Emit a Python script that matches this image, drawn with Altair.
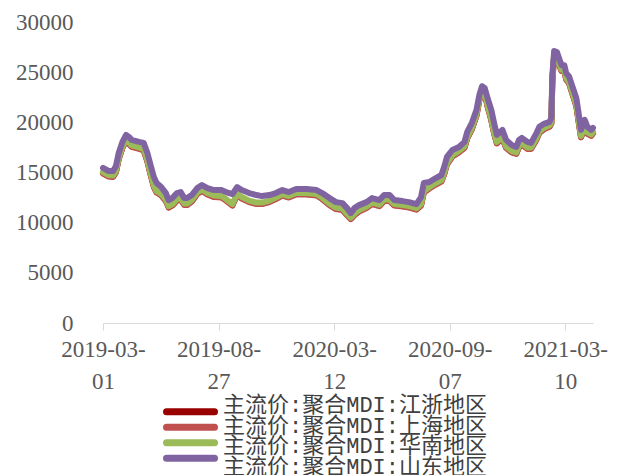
import altair as alt
import pandas as pd

# trading-day index of each sampled point (0 = 2019-03-01)
day_idx = [0, 6, 11, 14, 17, 21, 25, 28, 31, 39, 44, 48, 52, 55, 58, 63, 68, 71, 75, 80,
           84, 88, 91, 96, 102, 107, 113, 120, 128, 133, 140, 145, 150, 158, 166, 172, 180, 187, 194, 201,
           209, 220, 231, 237, 245, 252, 259, 264, 268, 272, 277, 285, 291, 299, 304, 310, 315, 324, 331, 339,
           344, 347, 353, 360, 366, 369, 372, 378, 385, 391, 394, 399, 404, 407, 410, 413, 416, 420, 423, 426,
           432, 436, 442, 447, 450, 453, 459, 463, 469, 472, 477, 483, 485, 486, 488, 491, 494, 496, 499, 501,
           504, 508, 512, 515, 517, 521, 524, 528, 530]

shandong = [15450, 15150, 15150, 15650, 16950, 18050, 18750, 18550, 18250, 18050, 17950, 16950, 15550, 14550, 13950, 13550, 12950, 12250, 12450, 12950,
            13050, 12450, 12450, 12750, 13450, 13750, 13450, 13250, 13250, 13050, 12850, 13550, 13250, 12950, 12750, 12650, 12750, 12950, 13250, 13050,
            13350, 13350, 13250, 12950, 12450, 12050, 11950, 11450, 10950, 11450, 11750, 12050, 12450, 12250, 12750, 12750, 12250, 12150, 12050, 11850,
            12550, 13950, 14050, 14450, 14750, 15550, 16550, 17250, 17550, 18050, 19050, 19950, 21250, 22700, 23600, 23400, 22400, 21250, 19950, 18750,
            19250, 18250, 17750, 17550, 18250, 18450, 18050, 17950, 18950, 19550, 19850, 20050, 20450, 24700, 27100, 27000, 26200, 25700, 25700, 24900,
            24600, 23500, 22400, 20550, 19250, 20250, 19550, 19250, 19450]

huanan = [15050, 14750, 14700, 15150, 16450, 17600, 18300, 18000, 17700, 17500, 17350, 16250, 14750, 13700, 13150, 12850, 12300, 11650, 11850, 12350,
          12450, 11900, 11900, 12250, 13000, 13300, 12950, 12700, 12650, 12350, 11850, 12900, 12550, 12200, 12000, 12000, 12200, 12500, 12850, 12650,
          12950, 12950, 12850, 12500, 11900, 11500, 11400, 10900, 10500, 10900, 11250, 11600, 12000, 11800, 12300, 12300, 11850, 11750, 11650, 11450,
          11850, 13150, 13550, 13950, 14250, 14950, 15950, 16750, 17150, 17600, 18550, 19450, 20800, 22300, 23300, 23000, 21700, 20350, 19050, 18050,
          18550, 17600, 17150, 17000, 17650, 17950, 17500, 17500, 18450, 19100, 19450, 19700, 20050, 24200, 26800, 26650, 25750, 25250, 25200, 24400,
          24050, 22900, 21750, 19850, 18650, 19550, 19000, 18800, 19050]

shanghai = [14900, 14600, 14550, 15000, 16300, 17450, 18150, 17850, 17550, 17350, 17200, 16100, 14600, 13550, 13000, 12700, 12150, 11500, 11700, 12200,
            12300, 11750, 11750, 12100, 12850, 13150, 12800, 12550, 12500, 12200, 11700, 12750, 12400, 12050, 11850, 11850, 12050, 12350, 12700, 12500,
            12800, 12800, 12700, 12350, 11750, 11350, 11250, 10750, 10350, 10750, 11100, 11450, 11850, 11650, 12150, 12150, 11700, 11600, 11500, 11300,
            11700, 13000, 13400, 13800, 14100, 14800, 15800, 16600, 17000, 17450, 18400, 19300, 20650, 22150, 23150, 22850, 21550, 20200, 18900, 17900,
            18400, 17450, 17000, 16850, 17500, 17800, 17350, 17350, 18300, 18950, 19300, 19550, 19900, 24050, 26650, 26500, 25600, 25100, 25050, 24250,
            23900, 22750, 21600, 19700, 18500, 19400, 18850, 18650, 18900]

jiangzhe = [14950, 14650, 14600, 15050, 16350, 17500, 18200, 17900, 17600, 17400, 17250, 16150, 14650, 13600, 13050, 12750, 12200, 11550, 11750, 12250,
            12350, 11800, 11800, 12150, 12900, 13200, 12850, 12600, 12550, 12250, 11750, 12800, 12450, 12100, 11900, 11900, 12100, 12400, 12750, 12550,
            12850, 12850, 12750, 12400, 11800, 11400, 11300, 10800, 10400, 10800, 11150, 11500, 11900, 11700, 12200, 12200, 11750, 11650, 11550, 11350,
            11750, 13050, 13450, 13850, 14150, 14850, 15850, 16650, 17050, 17500, 18450, 19350, 20700, 22200, 23200, 22900, 21600, 20250, 18950, 17950,
            18450, 17500, 17050, 16900, 17550, 17850, 17400, 17400, 18350, 19000, 19350, 19600, 19950, 24100, 26700, 26550, 25650, 25150, 25100, 24300,
            23950, 22800, 21650, 19750, 18550, 19450, 18900, 18700, 18950]

series_names = ["主流价:聚合MDI:江浙地区", "主流价:聚合MDI:上海地区",
                "主流价:聚合MDI:华南地区", "主流价:聚合MDI:山东地区"]
series_values = [jiangzhe, shanghai, huanan, shandong]
series_colors = ["#990000", "#C0504D", "#9BBB59", "#8064A2"]

tick_idx = [0, 125, 250, 375, 500]
tick_labels = [["2019-03-", "01"], ["2019-08-", "27"], ["2020-03-", "12"],
               ["2020-09-", "07"], ["2021-03-", "10"]]

rows = []
for k, (name, vals) in enumerate(zip(series_names, series_values)):
    for d, v in zip(day_idx, vals):
        rows.append({"idx": d, "value": v, "series": name, "k": k})
df = pd.DataFrame(rows)
legend_df = pd.DataFrame({"series": series_names, "k": list(range(len(series_names)))})

label_expr = ""
for t, lab in zip(tick_idx, tick_labels):
    label_expr += f"datum.value == {t} ? ['{lab[0]}', '{lab[1]}'] : "
label_expr += "''"

FONT = "Liberation Serif"
color_scale = alt.Scale(domain=series_names, range=series_colors)

lines = alt.Chart(df).mark_line(strokeWidth=6, strokeJoin="round", strokeCap="round").encode(
    x=alt.X("idx:Q",
            scale=alt.Scale(domain=[0, 530], nice=False, zero=False),
            axis=alt.Axis(values=tick_idx, labelExpr=label_expr, title=None,
                          grid=False, domainColor="#D9D9D9", tickColor="#D9D9D9",
                          tickSize=7, labelPadding=8, labelFont=FONT, labelFontSize=23,
                          labelColor="#595959", labelLineHeight=32, labelFlush=False,
                          labelOverlap=False)),
    y=alt.Y("value:Q",
            scale=alt.Scale(domain=[0, 30000], nice=False),
            axis=alt.Axis(values=[0, 5000, 10000, 15000, 20000, 25000, 30000], format="d",
                          title=None, grid=False, domain=False, ticks=False, tickSize=0,
                          labelPadding=30, labelFont=FONT, labelFontSize=23,
                          labelColor="#595959")),
    color=alt.Color("series:N", scale=color_scale, legend=None),
    detail="k:O",
)

legend_y = alt.Y("k:O", axis=None, scale=alt.Scale(range=[382, 444], padding=0))

legend_rules = alt.Chart(legend_df).mark_rule(strokeWidth=7, strokeCap="round").encode(
    x=alt.value(63.5), x2=alt.value(111.5),
    y=legend_y,
    color=alt.Color("series:N", scale=color_scale, legend=None),
)

legend_text = alt.Chart(legend_df).mark_text(
    align="left", baseline="middle", font="Liberation Mono, Noto Sans CJK SC", fontSize=22,
    color="#404040", dy=1,
).encode(
    x=alt.value(120),
    y=legend_y,
    text="series:N",
)

chart = alt.layer(lines, legend_rules, legend_text).resolve_scale(
    y="independent"
).properties(
    width=490, height=301,
    padding={"left": 95, "top": 14, "right": 24, "bottom": 152},
    autosize=alt.AutoSizeParams(type="none"),
).configure_view(stroke=None)

chart.save("out.html", embed_options={"renderer": "svg", "actions": False})
